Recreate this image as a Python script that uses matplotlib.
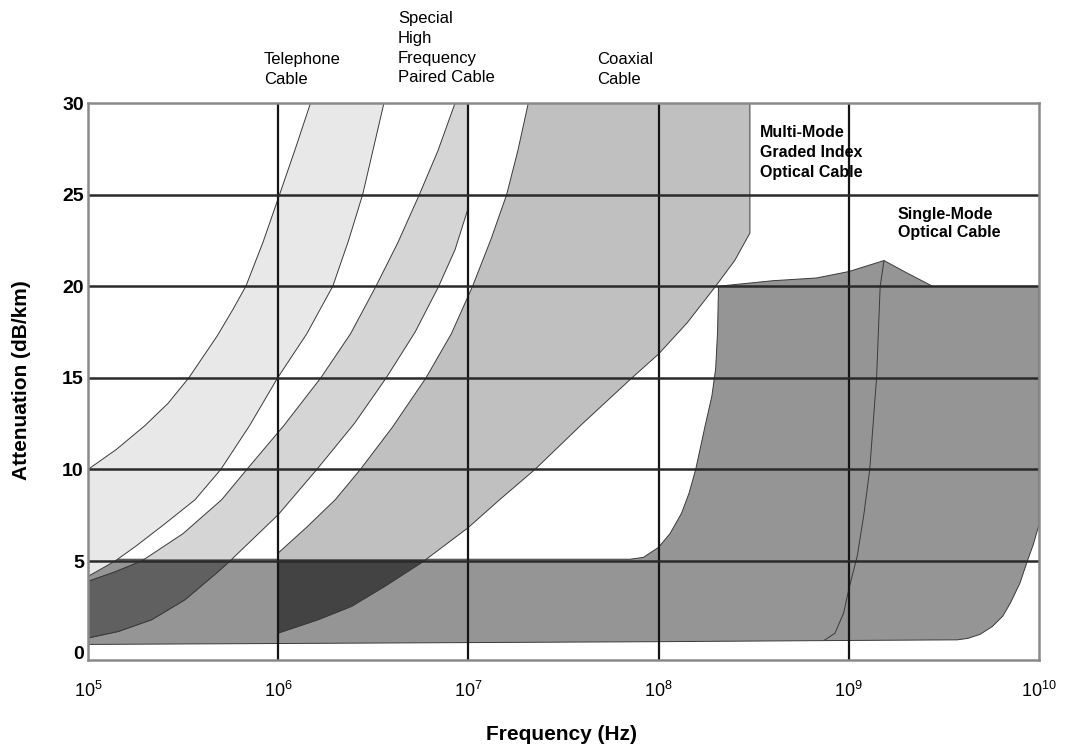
import numpy as np
import matplotlib
matplotlib.use('Agg')
import matplotlib.pyplot as plt
from matplotlib.patches import Polygon
from matplotlib import font_manager

# all curves: log10(frequency in Hz) and attenuation in dB/km
# telephone cable band
tel_left_lx = [5.0, 5.15, 5.3, 5.42, 5.53, 5.68, 5.76, 5.83, 5.92, 6.007, 6.09, 6.17]
tel_left_db = [10.0, 11.1, 12.4, 13.6, 15.0, 17.3, 18.7, 20.0, 22.4, 25.0, 27.5, 30.0]
tel_right_lx = [5.0, 5.142, 5.25, 5.4, 5.563, 5.698, 5.85, 5.997, 6.15, 6.287, 6.37, 6.444, 6.5, 6.556]
tel_right_db = [4.16, 5.0, 5.8, 7.0, 8.35, 10.0, 12.4, 15.0, 17.4, 20.0, 22.5, 25.0, 27.5, 30.0]

# special high frequency paired cable band (cut at 10^7)
spc_left_lx = [5.0, 5.14, 5.282, 5.5, 5.703, 5.835, 6.03, 6.224, 6.38, 6.514, 6.63, 6.742, 6.84, 6.93]
spc_left_db = [3.89, 4.4, 5.0, 6.5, 8.35, 10.0, 12.4, 15.0, 17.4, 20.0, 22.4, 25.0, 27.4, 30.0]
spc_right_lx = [5.0, 5.16, 5.335, 5.51, 5.685, 5.746, 6.0, 6.203, 6.4, 6.568, 6.72, 6.844, 6.93, 7.0]
spc_right_db = [0.8, 1.16, 1.8, 2.89, 4.43, 5.0, 7.53, 10.0, 12.5, 15.0, 17.5, 20.0, 22.0, 24.3]

# coaxial cable band (from 10^6 to 3x10^8)
cox_left_lx = [6.0, 6.15, 6.3, 6.432, 6.6, 6.777, 6.91, 7.022, 7.12, 7.201, 7.26, 7.315]
cox_left_db = [5.44, 6.85, 8.35, 10.0, 12.3, 15.0, 17.4, 20.0, 22.6, 25.0, 27.4, 30.0]
cox_right_lx = [6.0, 6.21, 6.386, 6.56, 6.763, 6.996, 7.17, 7.35, 7.6, 7.86, 8.0, 8.15, 8.3, 8.4, 8.48]
cox_right_db = [1.07, 1.8, 2.53, 3.62, 4.98, 6.8, 8.4, 10.0, 12.5, 15.0, 16.3, 18.0, 20.0, 21.4, 22.9]

# optical cable area (multi-mode + single-mode)
opt_floor_lx = [5.0, 6.0, 7.0, 8.0, 8.9, 9.57, 9.626, 9.69, 9.755, 9.81, 9.85, 9.9, 9.94, 9.97, 10.0]
opt_floor_db = [0.45, 0.5, 0.55, 0.6, 0.66, 0.7, 0.78, 1.0, 1.43, 2.0, 2.72, 3.8, 5.04, 5.9, 6.98]
opt_roof_lx = [10.0, 10.0, 9.44, 9.31, 9.185, 9.0, 8.83, 8.6, 8.315]
opt_roof_db = [6.98, 20.0, 20.0, 20.7, 21.4, 20.8, 20.45, 20.3, 20.0]
mm_rise_lx = [8.315, 8.31, 8.30, 8.28, 8.245, 8.195, 8.16, 8.12, 8.06, 8.0, 7.92, 7.85, 5.0]
mm_rise_db = [20.0, 17.5, 15.5, 14.0, 12.4, 10.0, 8.7, 7.6, 6.5, 5.75, 5.2, 5.1, 5.1]
sm_edge_lx = [8.873, 8.927, 8.973, 9.0, 9.045, 9.08, 9.11, 9.146, 9.165, 9.185]
sm_edge_db = [0.69, 1.06, 2.17, 3.46, 5.3, 7.6, 10.0, 15.0, 20.0, 21.4]

C_TEL = "#e8e8e8"
C_SPC = "#d5d5d5"
C_COX = "#c0c0c0"
C_OPT = "#959595"
C_SPC_OPT = "#606060"
C_COX_OPT = "#434343"
EDGE = "#3a3a3a"

names = {f.name for f in font_manager.fontManager.ttflist}
NARROW = "Liberation Sans Narrow" if "Liberation Sans Narrow" in names else "Liberation Sans"
plt.rcParams["font.family"] = [NARROW, "DejaVu Sans"]


def pts(lx, db):
    return np.column_stack([10.0 ** np.asarray(lx), np.asarray(db)])


W, H = 1068, 749
fig = plt.figure(figsize=(W / 100, H / 100), dpi=100, facecolor="white")
ax = fig.add_axes([88 / W, 1 - 660 / H, (1039 - 88) / W, (660 - 103) / H])
ax.set_xscale("log")
ax.set_xlim(1e5, 1e10)
ax.set_ylim(-0.4, 30)

opt_poly = np.vstack([pts(opt_floor_lx, opt_floor_db), pts(opt_roof_lx, opt_roof_db),
                      pts(mm_rise_lx, mm_rise_db)])
tel_poly = np.vstack([pts(tel_left_lx, tel_left_db), pts(tel_right_lx, tel_right_db)[::-1]])
spc_poly = np.vstack([pts(spc_left_lx, spc_left_db), pts([7.0], [30.0]),
                      pts(spc_right_lx, spc_right_db)[::-1]])
cox_poly = np.vstack([pts(cox_left_lx, cox_left_db), pts([8.48], [30.0]),
                      pts(cox_right_lx, cox_right_db)[::-1]])

opt_patch = Polygon(opt_poly, closed=True, facecolor=C_OPT, edgecolor=EDGE, lw=0.7, zorder=1)
ax.add_patch(opt_patch)
for poly, col in [(tel_poly, C_TEL), (spc_poly, C_SPC), (cox_poly, C_COX)]:
    ax.add_patch(Polygon(poly, closed=True, facecolor=col, edgecolor=EDGE, lw=0.7, zorder=1.2))

# overlap of the paired / coaxial bands with the optical area
for poly, col in [(spc_poly, C_SPC_OPT), (cox_poly, C_COX_OPT)]:
    p = Polygon(poly, closed=True, facecolor=col, edgecolor=EDGE, lw=0.7, zorder=1.4)
    ax.add_patch(p)
    p.set_clip_path(opt_patch)

ax.plot(10.0 ** np.array(sm_edge_lx), sm_edge_db, color=EDGE, lw=0.7, zorder=1.5)

# grid
for v in [1e6, 1e7, 1e8, 1e9]:
    ax.axvline(v, color="#151515", lw=1.6, zorder=3)
for h in [5, 10, 15, 20, 25]:
    ax.axhline(h, color="#2a2a2a", lw=1.8, zorder=3)
for s in ax.spines.values():
    s.set_color("#8a8a8a")
    s.set_linewidth(1.8)
    s.set_zorder(4)

ax.set_xticks([1e5, 1e6, 1e7, 1e8, 1e9, 1e10])
ax.set_yticks([0, 5, 10, 15, 20, 25, 30])
ax.minorticks_off()
ax.tick_params(length=0)
ax.tick_params(axis="x", pad=15, labelsize=13)
ax.tick_params(axis="y", pad=3, labelsize=14)
for t in ax.get_yticklabels():
    t.set_fontweight("bold")

fig.text(22 / W, 1 - 380 / H, "Attenuation (dB/km)", rotation=90, ha="center", va="center",
         fontsize=15, fontweight="bold", family=["Liberation Sans", "DejaVu Sans"])
fig.text(562 / W, 1 - 735 / H, "Frequency (Hz)", ha="center", va="center",
         fontsize=15, fontweight="bold", family=["Liberation Sans", "DejaVu Sans"])

labels = [
    (264, 52, "Telephone\nCable", "normal", 12, 1.4),
    (398, 11, "Special\nHigh\nFrequency\nPaired Cable", "normal", 12, 1.4),
    (597, 52, "Coaxial\nCable", "normal", 12, 1.4),
    (760, 125, "Multi-Mode\nGraded Index\nOptical Cable", "bold", 11.5, 1.4),
    (898, 207, "Single-Mode\nOptical Cable", "bold", 11.5, 1.28),
]
for x, y, s, w, fs, ls in labels:
    fig.text(x / W, 1 - y / H, s, ha="left", va="top", fontsize=fs, fontweight=w,
             linespacing=ls)

fig.savefig("out.png", dpi=100, facecolor="white")
